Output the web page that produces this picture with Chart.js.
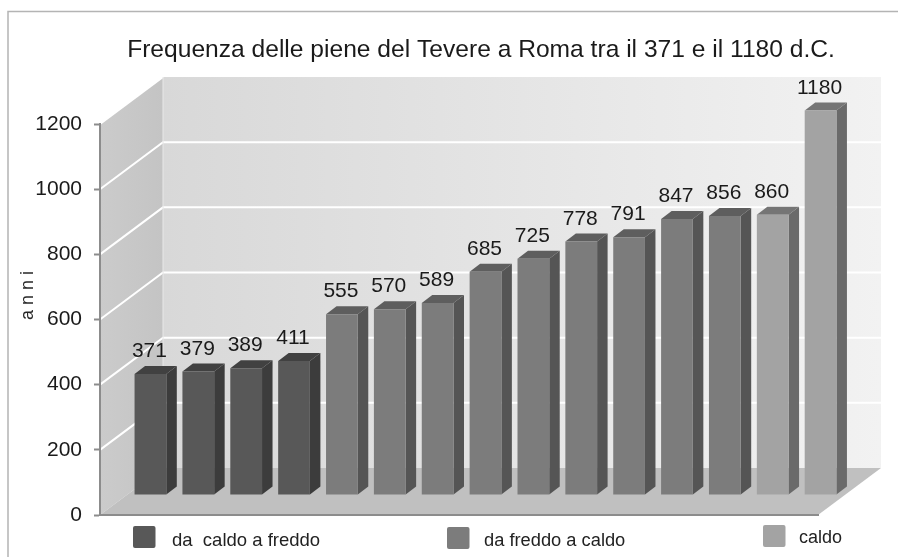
<!DOCTYPE html>
<html><head><meta charset="utf-8">
<style>html,body{margin:0;padding:0;background:#fff}#w{position:relative;width:898px;height:557px}canvas{display:block}</style>
<script src="https://cdn.jsdelivr.net/npm/chart.js@4"></script>
</head><body><div id="w"><canvas id="c" width="898" height="557"></canvas></div>
<script>
const titleText = 'Frequenza delle piene del Tevere a Roma tra il 371 e il 1180 d.C.';
const axisTitle = 'a n n i';
const categories = ['371','379','389','411','555','570','589','685','725','778','791','847','856','860','1180'];
const caldoFreddo = [371,379,389,411,null,null,null,null,null,null,null,null,null,null,null];
const freddoCaldo = [null,null,null,null,555,570,589,685,725,778,791,847,856,null,null];
const caldo = [null,null,null,null,null,null,null,null,null,null,null,null,null,860,1180];
const yTicks = [0,200,400,600,800,1000,1200];
const seriesNames = ['da  caldo a freddo','da freddo a caldo','caldo'];
const frontColors = ['#585858','#7c7c7c','#a3a3a3'];
const sideColors = ['#3c3c3c','#555555','#6a6a6a'];
const topColors = ['#414141','#5e5e5e','#757575'];
const legendX = [133,447,763];
const legendY = [526,527,525];
const legendTextX = [172,484,799];
const legendTextY = [541,541,538];
const legendFont = [18.5,18.3,18];

const WALL = {dx:63, dy:-47};
const BAR = {dx:26.5, dy:-20, sx:10.5, sy:-8};
const F = 'Liberation Sans, Arial, sans-serif';

function poly(ctx, pts, fill){
  ctx.beginPath();
  pts.forEach((p,i)=> i?ctx.lineTo(p[0],p[1]):ctx.moveTo(p[0],p[1]));
  ctx.closePath(); ctx.fillStyle=fill; ctx.fill();
}
const scene = {
  id:'scene',
  afterLayout(chart){
    const t = chart.titleBlock;
    if(t){ t.left = 64; t.right = 898; }
  },
  beforeDraw(chart){
    const {ctx, chartArea:a, scales:{y}} = chart;
    const L=a.left,R=a.right,B=y.getPixelForValue(0),T=y.getPixelForValue(1200);
    const dx=WALL.dx, dy=WALL.dy;
    ctx.save();
    ctx.fillStyle='#fff'; ctx.fillRect(0,0,chart.width,chart.height);
    ctx.strokeStyle='#b4b4b4'; ctx.lineWidth=1.5;
    ctx.beginPath(); ctx.moveTo(8,557); ctx.lineTo(8,11.5); ctx.lineTo(898,11.5); ctx.stroke();
    let g=ctx.createLinearGradient(L+dx,0,R+dx,0);
    g.addColorStop(0,'#d8d8d8'); g.addColorStop(1,'#f2f2f2');
    ctx.fillStyle=g; ctx.fillRect(L+dx,T+dy,R-L,B-T);
    g=ctx.createLinearGradient(L,0,L+dx,0);
    g.addColorStop(0,'#cbcbcb'); g.addColorStop(1,'#c4c4c4');
    poly(ctx,[[L,T],[L+dx,T+dy],[L+dx,B+dy],[L,B]],g);
    poly(ctx,[[L,B],[L+dx,B+dy],[R+dx,B+dy],[R,B]],'#c0c0c0');
    ctx.strokeStyle='#ffffff'; ctx.lineWidth=2;
    yTicks.forEach(v=>{
      if(v===0) return;
      const p=y.getPixelForValue(v);
      ctx.beginPath(); ctx.moveTo(L,p); ctx.lineTo(L+dx,p+dy);
      if(v<1200) ctx.lineTo(R+dx,p+dy);
      ctx.stroke();
    });
    ctx.strokeStyle='#e8e8e8'; ctx.lineWidth=1;
    ctx.beginPath(); ctx.moveTo(L+dx,T+dy); ctx.lineTo(L+dx,B+dy); ctx.stroke();
    ctx.restore();
  },
  beforeDatasetsDraw(chart){
    const ctx=chart.ctx;
    ctx.save();
    ctx.translate(BAR.dx,BAR.dy);
    chart.data.datasets.forEach((ds,i)=>{
      chart.getDatasetMeta(i).data.forEach((el,j)=>{
        if(ds.data[j]==null) return;
        const p=el.getProps(['x','y','base','width']);
        const x0=p.x-p.width/2,x1=p.x+p.width/2;
        poly(ctx,[[x1,p.y],[x1+BAR.sx,p.y+BAR.sy],[x1+BAR.sx,p.base+BAR.sy],[x1,p.base]],sideColors[i]);
        poly(ctx,[[x0,p.y],[x0+BAR.sx,p.y+BAR.sy],[x1+BAR.sx,p.y+BAR.sy],[x1,p.y]],topColors[i]);
      });
    });
  },
  afterDatasetsDraw(chart){
    const ctx=chart.ctx;
    ctx.font='21px '+F; ctx.fillStyle='#1a1a1a'; ctx.textAlign='center'; ctx.textBaseline='alphabetic';
    chart.data.datasets.forEach((ds,i)=>{
      chart.getDatasetMeta(i).data.forEach((el,j)=>{
        if(ds.data[j]==null) return;
        const p=el.getProps(['x','y']);
        ctx.fillText(String(ds.data[j]),p.x-1,p.y-17);
      });
    });
    ctx.restore();
    ctx.save();
    ctx.textAlign='left'; ctx.textBaseline='middle';
    seriesNames.forEach((n,i)=>{
      ctx.fillStyle=frontColors[i];
      ctx.beginPath(); ctx.roundRect(legendX[i],legendY[i],22.5,22,2); ctx.fill();
      ctx.fillStyle='#222222'; ctx.font=legendFont[i]+'px '+F;
      ctx.fillText(n,legendTextX[i],legendTextY[i]);
    });
    ctx.translate(28,295.5); ctx.rotate(-Math.PI/2);
    ctx.textAlign='center'; ctx.textBaseline='middle'; ctx.font='18px '+F; ctx.fillStyle='#262626';
    ctx.fillText(axisTitle,0,0);
    ctx.restore();
  }
};
const mk=(i,d)=>({label:seriesNames[i],data:d,backgroundColor:frontColors[i],borderWidth:0,
  grouped:false,barPercentage:0.663,categoryPercentage:1,clip:false});
new Chart(document.getElementById('c'),{
  type:'bar',
  data:{labels:categories,datasets:[mk(0,caldoFreddo),mk(1,freddoCaldo),mk(2,caldo)]},
  plugins:[scene],
  options:{
    responsive:false,animation:false,
    layout:{padding:{left:8,right:80,top:0,bottom:34}},
    plugins:{
      legend:{display:false},tooltip:{enabled:false},
      title:{display:true,text:titleText,color:'#1a1a1a',align:'center',
        font:{family:F,size:24.6,weight:'normal',lineHeight:1.2},
        padding:{top:35,bottom:59.5}}
    },
    scales:{
      x:{grid:{display:false},border:{display:true,color:'#8c8c8c',width:2},ticks:{display:false}},
      y:{min:0,max:1200,
        afterFit(s){s.width=92;},
        afterBuildTicks(s){s.ticks=yTicks.map(v=>({value:v}));},
        grid:{drawOnChartArea:false,drawTicks:true,tickLength:6,color:'#8c8c8c',tickWidth:2},
        border:{display:true,color:'#8c8c8c',width:2},
        ticks:{padding:12,color:'#1a1a1a',font:{family:F,size:21},callback:v=>String(v)}
      }
    }
  }
});
</script></body></html>
